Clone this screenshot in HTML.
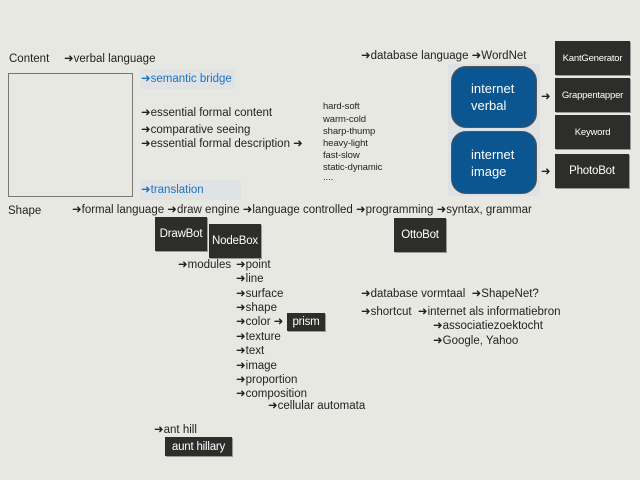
<!DOCTYPE html>
<html><head><meta charset="utf-8"><style>
body{margin:0;width:640px;height:480px;background:#e8e8e3;position:relative;overflow:hidden;font-family:"Liberation Sans","DejaVu Sans",sans-serif;color:#222;}
.t{position:absolute;font-size:11.5px;line-height:14px;white-space:nowrap;letter-spacing:0;}
.s{position:absolute;font-size:9.5px;line-height:12px;white-space:nowrap;letter-spacing:-0.1px;}
.b{position:absolute;background:#2d2d2b;color:#fff;font-size:11.5px;display:flex;align-items:center;justify-content:center;box-shadow:1px 1px 0 #999;letter-spacing:-0.2px;}
.blue{color:#1a73c0;}
.ib{position:absolute;background:#0b5591;border:1.5px solid #555;border-radius:15px;color:#fff;font-size:13px;line-height:17px;box-sizing:border-box;padding-left:19px;}
</style></head><body>
<div class="t" style="left:9px;top:52px">Content</div>
<div class="t" style="left:64px;top:52px">➜verbal language</div>
<div style="position:absolute;left:8px;top:73px;width:123px;height:122px;border:1.5px solid #777;"></div>
<div style="position:absolute;left:140px;top:69px;width:95px;height:20px;background:#e0e3e5"></div>
<div class="t blue" style="left:141px;top:72px">➜semantic bridge</div>
<div class="t" style="left:141px;top:106px">➜essential formal content</div>
<div class="t" style="left:141px;top:123px">➜comparative seeing</div>
<div class="t" style="left:141px;top:137px">➜essential formal description ➜</div>
<div style="position:absolute;left:140px;top:180px;width:101px;height:20px;background:#e0e3e5"></div>
<div class="t blue" style="left:141px;top:183px">➜translation</div>
<div class="t" style="left:8px;top:204px">Shape</div>
<div class="t" style="left:72px;top:203px">➜formal language ➜draw engine ➜language controlled ➜programming ➜syntax, grammar</div>
<div class="b" style="left:155px;top:217px;width:52px;height:34px">DrawBot</div>
<div class="b" style="left:209px;top:224px;width:52px;height:34px">NodeBox</div>
<div class="b" style="left:394px;top:218px;width:52px;height:34px">OttoBot</div>
<div class="t" style="left:178px;top:258px">➜modules</div>
<div class="t" style="left:236px;top:258px">➜point</div>
<div class="t" style="left:236px;top:272px">➜line</div>
<div class="t" style="left:236px;top:287px">➜surface</div>
<div class="t" style="left:236px;top:301px">➜shape</div>
<div class="t" style="left:236px;top:315px">➜color ➜</div>
<div class="b" style="left:287px;top:313px;width:38px;height:18px">prism</div>
<div class="t" style="left:236px;top:330px">➜texture</div>
<div class="t" style="left:236px;top:344px">➜text</div>
<div class="t" style="left:236px;top:359px">➜image</div>
<div class="t" style="left:236px;top:373px">➜proportion</div>
<div class="t" style="left:236px;top:387px">➜composition</div>
<div class="t" style="left:268px;top:399px">➜cellular automata</div>
<div class="t" style="left:361px;top:287px">➜database vormtaal &nbsp;➜ShapeNet?</div>
<div class="t" style="left:361px;top:305px">➜shortcut &nbsp;➜internet als informatiebron</div>
<div class="t" style="left:433px;top:319px">➜associatiezoektocht</div>
<div class="t" style="left:433px;top:334px">➜Google, Yahoo</div>
<div class="t" style="left:154px;top:423px">➜ant hill</div>
<div class="b" style="left:165px;top:437px;width:67px;height:19px">aunt hillary</div>
<div class="t" style="left:361px;top:49px">➜database language ➜WordNet</div>
<div class="s" style="left:323px;top:101px">hard-soft</div>
<div class="s" style="left:323px;top:114px">warm-cold</div>
<div class="s" style="left:323px;top:126px">sharp-thump</div>
<div class="s" style="left:323px;top:138px">heavy-light</div>
<div class="s" style="left:323px;top:150px">fast-slow</div>
<div class="s" style="left:323px;top:162px">static-dynamic</div>
<div class="s" style="left:323px;top:172px">....</div>
<div style="position:absolute;left:448px;top:64px;width:92px;height:132px;background:#dfe2e4"></div>
<div class="ib" style="left:451px;top:66px;width:86px;height:62px;padding-top:13px">internet<br>verbal</div>
<div class="ib" style="left:451px;top:131px;width:86px;height:63px;padding-top:14px">internet<br>image</div>
<div class="t" style="left:541px;top:90px">➜</div>
<div class="t" style="left:541px;top:165px">➜</div>
<div class="b" style="left:555px;top:41px;width:75px;height:34px;font-size:9.5px">KantGenerator</div>
<div class="b" style="left:555px;top:78px;width:75px;height:34px;font-size:9.5px">Grappentapper</div>
<div class="b" style="left:555px;top:115px;width:75px;height:34px;font-size:9.5px">Keyword</div>
<div class="b" style="left:555px;top:154px;width:74px;height:34px;font-size:11.5px">PhotoBot</div>
</body></html>
